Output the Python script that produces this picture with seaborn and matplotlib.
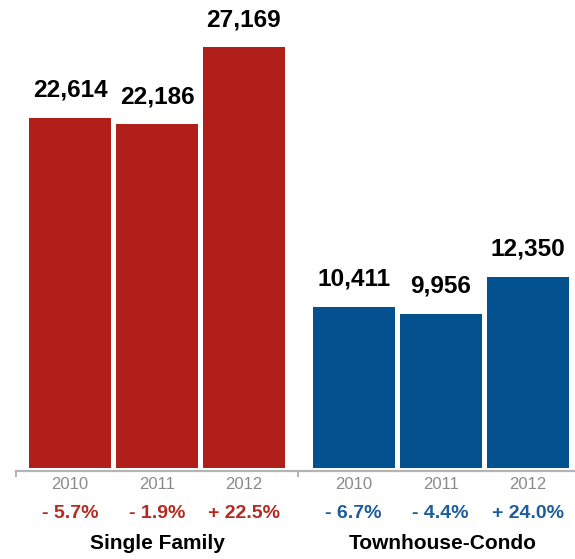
import matplotlib
matplotlib.use("Agg")
import matplotlib.pyplot as plt
import seaborn as sns
import pandas as pd

# Closed sales by property type, 2010-2012
groups = ["Single Family", "Townhouse-Condo"]
years = ["2010", "2011", "2012"]
single_family = [22614, 22186, 27169]
townhouse_condo = [10411, 9956, 12350]
single_family_change = ["- 5.7%", "- 1.9%", "+ 22.5%"]
townhouse_condo_change = ["- 6.7%", "- 4.4%", "+ 24.0%"]

group_colors = ["#B11F1A", "#03528F"]
change_colors = ["#B32A21", "#1C5C9B"]

df = pd.DataFrame({
    "group": [groups[0]] * 3 + [groups[1]] * 3,
    "year": years * 2,
    "sales": single_family + townhouse_condo,
})
changes = {groups[0]: single_family_change, groups[1]: townhouse_condo_change}

sns.set_theme(style="white")
plt.rcParams["font.family"] = ["Liberation Sans", "DejaVu Sans"]

fig = plt.figure(figsize=(5.75, 5.59), dpi=100)
ax = fig.add_axes([16 / 575, 91 / 559, 559 / 575, 468 / 559])

sns.barplot(data=df, x="group", y="sales", hue="year", order=groups,
            hue_order=years, width=0.92, gap=0.057, dodge=True,
            legend=False, errorbar=None, linewidth=0, ax=ax)

ax.set_xlim(-0.497, 1.474)
ax.set_ylim(0, 30200)

for yi, container in enumerate(ax.containers):
    for gi, bar in enumerate(container):
        bar.set_facecolor(group_colors[gi])
        bar.set_edgecolor("none")
        cx = bar.get_x() + bar.get_width() / 2
        h = bar.get_height()
        # value above bar
        ax.annotate(f"{int(h):,}", xy=(cx, h), xytext=(0, 19.6),
                    textcoords="offset points", ha="center", va="center",
                    fontsize=17.6, fontweight="bold", color="black")
        # year under the axis
        ax.annotate(years[yi], xy=(cx, 0), xycoords=("data", "axes fraction"),
                    xytext=(0, -12.2), textcoords="offset points",
                    ha="center", va="center", fontsize=12, color="#8a8a8a")
        # change vs previous year
        ax.annotate(changes[groups[gi]][yi], xy=(cx, 0),
                    xycoords=("data", "axes fraction"),
                    xytext=(0, -32.4), textcoords="offset points",
                    ha="center", va="center", fontsize=14, fontweight="bold",
                    color=change_colors[gi])

for gi, name in enumerate(groups):
    ax.annotate(name, xy=(gi, 0), xycoords=("data", "axes fraction"),
                xytext=(1.5 * gi, -54.7), textcoords="offset points",
                ha="center", va="center", fontsize=15, fontweight="bold",
                color="black")

# axis styling: only a light baseline with group separator ticks
for side in ["top", "right", "left"]:
    ax.spines[side].set_visible(False)
ax.spines["bottom"].set_color("#b4b4b4")
ax.spines["bottom"].set_linewidth(1.6)
ax.spines["bottom"].set_position(("outward", 2.5))
ax.set_yticks([])
ax.set_xticks([-0.497, 0.497])
ax.set_xticklabels([])
ax.tick_params(axis="x", bottom=True, length=4.5, width=1.4, color="#b4b4b4",
               direction="out")
ax.set_xlabel("")
ax.set_ylabel("")

fig.savefig("out.png", dpi=100)
